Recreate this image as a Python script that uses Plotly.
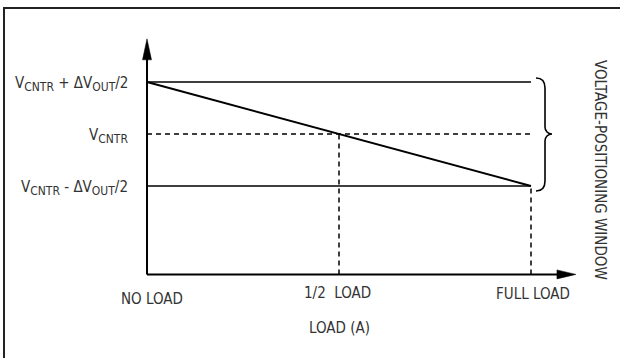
import plotly.graph_objects as go

# load positions on the x axis (fraction of full load)
load_ticks = [0, 0.5, 1.0]
load_labels = ["NO LOAD", "1/2  LOAD", "FULL LOAD"]

# output voltage levels, normalised so VCNTR = 0 and the window half-width = 1
SUB = '<sub><span style="font-size:12px">{}</span></sub>'
v_levels = [1, 0, -1]
v_labels = [
    "V" + SUB.format("CNTR") + " + ΔV" + SUB.format("OUT") + "/2",
    "V" + SUB.format("CNTR"),
    "V" + SUB.format("CNTR") + " - ΔV" + SUB.format("OUT") + "/2",
]

# load line: top of the window at no load, bottom of the window at full load
line_load = [0, 1.0]
line_v = [1, -1]

# axis extents
axis_origin = (0, -2.7)
x_axis_tip = 1.117
y_axis_tip = 1.83

FONT = "DejaVu Sans Condensed, Liberation Sans Narrow, sans-serif"
TXT = "#333333"
W, H = 620, 358
PX_X, PX_Y = 384.0, 52.0  # pixels per data unit
X0_PX, Y0_PX = 147, 134   # pixel of data (0, 0)


def dx(px):
    return px / PX_X


def dy(px):
    return px / PX_Y


fig = go.Figure()

# axis lines
fig.add_trace(go.Scatter(x=[axis_origin[0], axis_origin[0]], y=[axis_origin[1], y_axis_tip - dy(20)],
                         mode='lines', line=dict(color='black', width=2), hoverinfo='skip'))
fig.add_trace(go.Scatter(x=[axis_origin[0], x_axis_tip - dx(18)], y=[axis_origin[1], axis_origin[1]],
                         mode='lines', line=dict(color='black', width=2), hoverinfo='skip'))

# arrow heads
fig.add_trace(go.Scatter(
    x=[axis_origin[0], axis_origin[0] - dx(4.5), axis_origin[0] + dx(4.5), axis_origin[0]],
    y=[y_axis_tip, y_axis_tip - dy(21), y_axis_tip - dy(21), y_axis_tip],
    mode='lines', fill='toself', fillcolor='black', line=dict(color='black', width=0.5), hoverinfo='skip'))
fig.add_trace(go.Scatter(
    x=[x_axis_tip, x_axis_tip - dx(19), x_axis_tip - dx(19), x_axis_tip],
    y=[axis_origin[1], axis_origin[1] + dy(4.5), axis_origin[1] - dy(4.5), axis_origin[1]],
    mode='lines', fill='toself', fillcolor='black', line=dict(color='black', width=0.5), hoverinfo='skip'))

# window limits (solid) and centre (dashed)
for v in v_levels:
    fig.add_trace(go.Scatter(x=[0, load_ticks[-1]], y=[v, v], mode='lines',
                             line=dict(color='black', width=1.5, dash='5px,4px' if v == 0 else 'solid'),
                             hoverinfo='skip'))

# load line
fig.add_trace(go.Scatter(x=line_load, y=line_v, mode='lines',
                         line=dict(color='black', width=2), hoverinfo='skip'))

# dashed drop lines at 1/2 load and full load
for ld, v in [(load_ticks[1], v_levels[1]), (load_ticks[2], v_levels[2])]:
    fig.add_trace(go.Scatter(x=[ld, ld], y=[axis_origin[1], v], mode='lines',
                             line=dict(color='black', width=1.5, dash='5px,4px'), hoverinfo='skip'))

# curly brace for the voltage-positioning window
bx = load_ticks[-1] + dx(5)
top, bot, mid = v_levels[0] + dy(4), v_levels[2] - dy(5), v_levels[1]
half, w = dx(9), dx(16)
brace = (
    f"M {bx},{top} "
    f"C {bx + dx(6)},{top} {bx + half},{top - dy(3)} {bx + half},{top - dy(10)} "
    f"L {bx + half},{mid + dy(7)} "
    f"C {bx + half},{mid + dy(3)} {bx + dx(12)},{mid} {bx + w},{mid} "
    f"C {bx + dx(12)},{mid} {bx + half},{mid - dy(3)} {bx + half},{mid - dy(7)} "
    f"L {bx + half},{bot + dy(10)} "
    f"C {bx + half},{bot + dy(3)} {bx + dx(6)},{bot} {bx},{bot}"
)
fig.add_shape(type='path', path=brace, xref='x', yref='y', line=dict(color='black', width=1.6))

# frame (cropped on the right and bottom, as in the source figure)
fig.add_shape(type='rect', xref='paper', yref='paper', x0=4 / W, x1=1.02, y0=-0.02, y1=1 - 8 / H,
              line=dict(color='#222222', width=2))

# voltage labels
for v, lab in zip(v_levels, v_labels):
    fig.add_annotation(x=0, y=v, text=lab, showarrow=False, xanchor='right', yanchor='middle',
                       xshift=-17, yshift=-2, font=dict(family=FONT, size=15, color=TXT))

# load labels
shifts = [-25, -19, -20]
xshifts = [5, -2, 2]
for ld, lab, ys, xs in zip(load_ticks, load_labels, shifts, xshifts):
    fig.add_annotation(x=ld, y=axis_origin[1], text=lab, showarrow=False, xanchor='center', yanchor='middle',
                       yshift=ys, xshift=xs, font=dict(family=FONT, size=15, color=TXT))

fig.add_annotation(x=load_ticks[1], y=axis_origin[1], text="LOAD (A)", showarrow=False,
                   xanchor='center', yanchor='middle', yshift=-54,
                   font=dict(family=FONT, size=15, color=TXT))

fig.add_annotation(x=600 / W, y=1 - 170 / H, xref='paper', yref='paper', text="VOLTAGE-POSITIONING WINDOW",
                   showarrow=False, textangle=90, xanchor='center', yanchor='middle',
                   font=dict(family=FONT, size=15, color=TXT))

fig.update_layout(
    width=W, height=H, autosize=False,
    margin=dict(l=0, r=0, t=0, b=0),
    plot_bgcolor='white', paper_bgcolor='white',
    showlegend=False,
    xaxis=dict(visible=False, range=[-X0_PX / PX_X, (W - X0_PX) / PX_X], fixedrange=True),
    yaxis=dict(visible=False, range=[(Y0_PX - H) / PX_Y, Y0_PX / PX_Y], fixedrange=True),
)

# drop the default page margin so the figure sits at the window's corner
fig.write_html("out.html", config={'displayModeBar': False},
               post_script="document.body.style.margin = '0'; document.body.style.overflow = 'hidden';")
